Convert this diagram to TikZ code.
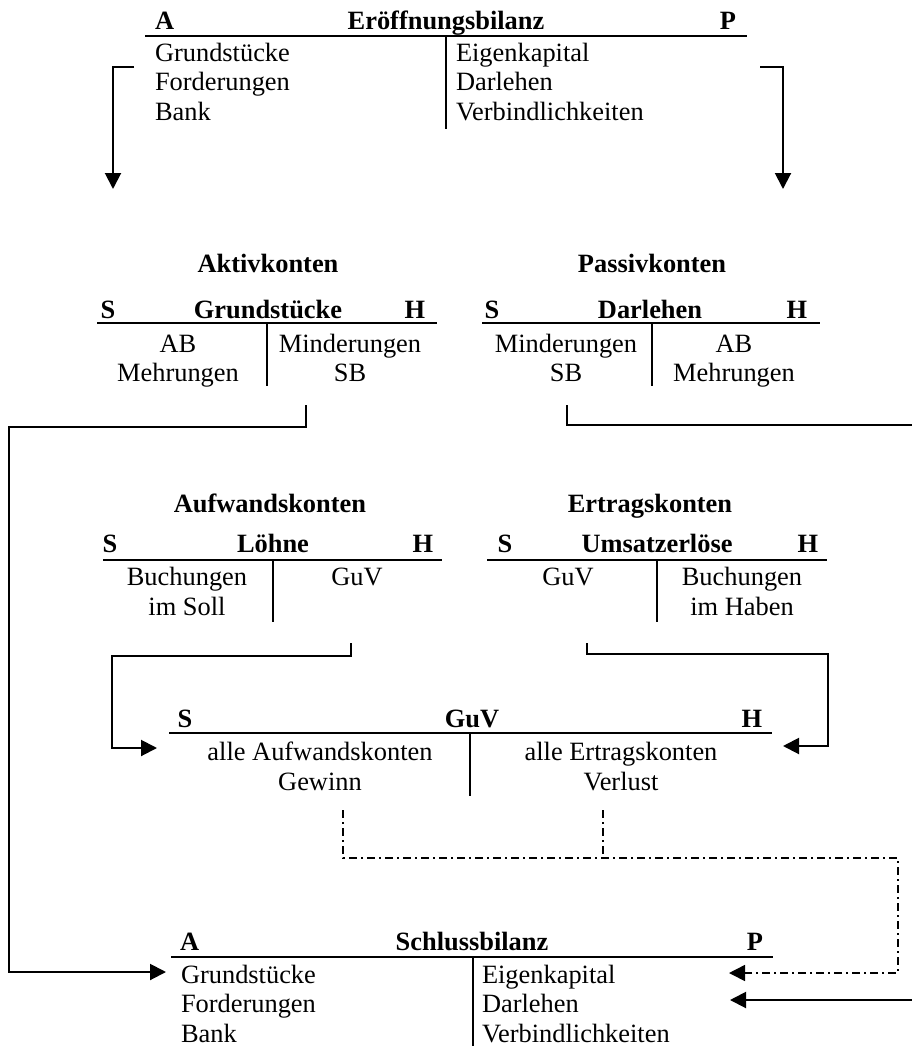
\documentclass[tikz,border=0pt]{standalone}
\usepackage{fontspec}
\setmainfont{Liberation Serif}
\usetikzlibrary{arrows.meta}
\begin{document}
\begin{tikzpicture}[x=1pt,y=-1pt,
  txt/.style={font=\fontsize{26.4}{29.5}\selectfont, inner sep=0pt, outer sep=0pt},
  hd/.style={font=\fontsize{26.4}{29.5}\selectfont\bfseries, inner sep=0pt, outer sep=0pt},
  rule/.style={line width=2.2pt},
  conn/.style={line width=2pt},
  arr/.style={conn, -{Triangle[length=16pt,width=16pt]}},
  dd/.style={line width=1.6pt, dash pattern=on 8pt off 4pt on 2pt off 4pt},
  ddarr/.style={dd, -{Triangle[length=16pt,width=16pt]}},
]
\useasboundingbox (0,0) rectangle (911,1046);

% ---------- Eröffnungsbilanz ----------
\node[hd, anchor=base west] (ebA) at (155,30) {A};
\node[hd, anchor=base] (ebT) at (446,30) {Eröffnungsbilanz};
\node[hd, anchor=base] (ebP) at (728,30) {P};
\draw[rule] (145,36) -- (747,36);
\draw[rule] (446,36) -- (446,129);
\node[txt, anchor=base west] (ebl1) at (155,62) {Grundstücke};
\node[txt, anchor=base west] (ebl2) at (155,91) {Forderungen};
\node[txt, anchor=base west] (ebl3) at (155,121) {Bank};
\node[txt, anchor=base west] (ebr1) at (456,62) {Eigenkapital};
\node[txt, anchor=base west] (ebr2) at (456,91) {Darlehen};
\node[txt, anchor=base west] (ebr3) at (456,121) {Verbindlichkeiten};

\coordinate (ebLs) at (134,67);
\coordinate (ebLc) at (113,67);
\coordinate (ebLe) at (113,189);
\coordinate (ebRs) at (760,67);
\coordinate (ebRc) at (783,67);
\coordinate (ebRe) at (783,189);
\draw[arr] (ebLs) -- (ebLc) -- (ebLe);
\draw[arr] (ebRs) -- (ebRc) -- (ebRe);

% ---------- Aktiv / Passiv ----------
\node[hd, anchor=base] (hAktiv) at (268,272) {Aktivkonten};
\node[hd, anchor=base] (hPassiv) at (652,272) {Passivkonten};

\node[hd, anchor=base] (gS) at (108,318) {S};
\node[hd, anchor=base] (gT) at (268,318) {Grundstücke};
\node[hd, anchor=base] (gH) at (415,318) {H};
\draw[rule] (97,323) -- (437,323);
\draw[rule] (267,323) -- (267,386);
\node[txt, anchor=base] (gl1) at (178,352) {AB};
\node[txt, anchor=base] (gl2) at (178,381) {Mehrungen};
\node[txt, anchor=base] (gr1) at (350,352) {Minderungen};
\node[txt, anchor=base] (gr2) at (350,381) {SB};

\node[hd, anchor=base] (dS) at (492,318) {S};
\node[hd, anchor=base] (dT) at (650,318) {Darlehen};
\node[hd, anchor=base] (dH) at (797,318) {H};
\draw[rule] (482,323) -- (820,323);
\draw[rule] (652,323) -- (652,386);
\node[txt, anchor=base] (dl1) at (566,352) {Minderungen};
\node[txt, anchor=base] (dl2) at (566,381) {SB};
\node[txt, anchor=base] (dr1) at (734,352) {AB};
\node[txt, anchor=base] (dr2) at (734,381) {Mehrungen};

% ---------- Aufwand / Ertrag ----------
\node[hd, anchor=base] (hAufw) at (270,512) {Aufwandskonten};
\node[hd, anchor=base] (hErtr) at (650,512) {Ertragskonten};

\node[hd, anchor=base] (lS) at (110,552) {S};
\node[hd, anchor=base] (lT) at (273,552) {Löhne};
\node[hd, anchor=base] (lH) at (423,552) {H};
\draw[rule] (103,560) -- (442,560);
\draw[rule] (273,560) -- (273,622);
\node[txt, anchor=base] (ll1) at (187,585) {Buchungen};
\node[txt, anchor=base] (ll2) at (187,615) {im Soll};
\node[txt, anchor=base] (lr1) at (357,585) {GuV};

\node[hd, anchor=base] (uS) at (505,552) {S};
\node[hd, anchor=base] (uT) at (657,552) {Umsatzerlöse};
\node[hd, anchor=base] (uH) at (808,552) {H};
\draw[rule] (487,560) -- (827,560);
\draw[rule] (657,560) -- (657,622);
\node[txt, anchor=base] (ul1) at (568,585) {GuV};
\node[txt, anchor=base] (ur1) at (742,585) {Buchungen};
\node[txt, anchor=base] (ur2) at (742,615) {im Haben};

% ---------- GuV ----------
\node[hd, anchor=base] (vS) at (185,727) {S};
\node[hd, anchor=base] (vT) at (472,727) {GuV};
\node[hd, anchor=base] (vH) at (752,727) {H};
\draw[rule] (169,733) -- (772,733);
\draw[rule] (470,733) -- (470,796);
\node[txt, anchor=base] (vl1) at (320,760) {alle Aufwandskonten};
\node[txt, anchor=base] (vl2) at (320,790) {Gewinn};
\node[txt, anchor=base] (vr1) at (621,760) {alle Ertragskonten};
\node[txt, anchor=base] (vr2) at (621,790) {Verlust};

% ---------- Schlussbilanz ----------
\node[hd, anchor=base west] (sbA) at (180,950) {A};
\node[hd, anchor=base] (sbT) at (472,950) {Schlussbilanz};
\node[hd, anchor=base] (sbP) at (755,950) {P};
\draw[rule] (171,957) -- (773,957);
\draw[rule] (473,957) -- (473,1048);
\node[txt, anchor=base west] (sbl1) at (181,983) {Grundstücke};
\node[txt, anchor=base west] (sbl2) at (181,1012) {Forderungen};
\node[txt, anchor=base west] (sbl3) at (181,1042) {Bank};
\node[txt, anchor=base west] (sbr1) at (482,983) {Eigenkapital};
\node[txt, anchor=base west] (sbr2) at (482,1012) {Darlehen};
\node[txt, anchor=base west] (sbr3) at (482,1042) {Verbindlichkeiten};

% ---------- connectors ----------
\coordinate (gOut) at (306,405);
\coordinate (gOut2) at (306,427);
\coordinate (gL) at (9,427);
\coordinate (gLd) at (9,972);
\coordinate (sbIn1) at (166,972);
\draw[arr] (gOut) -- (gOut2) -- (gL) -- (gLd) -- (sbIn1);

\coordinate (dOut) at (567,405);
\coordinate (dOut2) at (567,425);
\coordinate (dR) at (913,425);
\coordinate (dRd) at (913,1000);
\coordinate (sbIn2) at (730,1000);
\draw[arr] (dOut) -- (dOut2) -- (dR) -- (dRd) -- (sbIn2);

\coordinate (lOut) at (351,643);
\coordinate (lOut2) at (351,656);
\coordinate (lL) at (112,656);
\coordinate (lLd) at (112,748);
\coordinate (vIn1) at (157,748);
\draw[arr] (lOut) -- (lOut2) -- (lL) -- (lLd) -- (vIn1);

\coordinate (uOut) at (587,643);
\coordinate (uOut2) at (587,654);
\coordinate (uR) at (828,654);
\coordinate (uRd) at (828,746);
\coordinate (vIn2) at (783,746);
\draw[arr] (uOut) -- (uOut2) -- (uR) -- (uRd) -- (vIn2);

\coordinate (gwOut) at (343,810);
\coordinate (gwJ) at (343,858);
\coordinate (vlOut) at (603,810);
\coordinate (vlJ) at (603,858);
\coordinate (ddR) at (898,858);
\coordinate (ddRd) at (898,973);
\coordinate (sbIn3) at (729,973);
\draw[ddarr] (gwOut) -- (gwJ) -- (ddR) -- (ddRd) -- (sbIn3);
\draw[dd] (vlOut) -- (vlJ);
\end{tikzpicture}
\end{document}
